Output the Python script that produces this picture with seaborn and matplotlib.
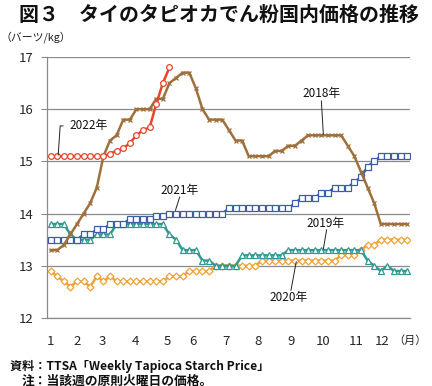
import matplotlib
matplotlib.use('Agg')
import matplotlib.pyplot as plt
import seaborn as sns
import numpy as np

# ---------------- data (weekly prices, baht/kg) ----------------
weeks = list(range(55))
month_pos = [0, 4.0, 7.9, 12.8, 17.7, 21.5, 26.6, 31.4, 36.4, 41.3, 46.2, 50.2]
month_labels = ['1', '2', '3', '4', '5', '6', '7', '8', '9', '10', '11', '12']

v2018 = [13.3, 13.3, 13.4, 13.6, 13.8, 14.0, 14.2, 14.5, 15.1, 15.4,
         15.5, 15.8, 15.8, 16.0, 16.0, 16.0, 16.2, 16.2, 16.5, 16.6,
         16.7, 16.7, 16.4, 16.0, 15.8, 15.8, 15.8, 15.6, 15.4, 15.4,
         15.1, 15.1, 15.1, 15.1, 15.2, 15.2, 15.3, 15.3, 15.4, 15.5,
         15.5, 15.5, 15.5, 15.5, 15.5, 15.3, 15.1, 14.8, 14.5, 14.2,
         13.8, 13.8, 13.8, 13.8, 13.8]
v2019 = [13.8, 13.8, 13.8, 13.6, 13.5, 13.5, 13.5, 13.6, 13.6, 13.6,
         13.8, 13.8, 13.8, 13.8, 13.8, 13.8, 13.8, 13.8, 13.6, 13.5,
         13.3, 13.3, 13.3, 13.1, 13.1, 13.0, 13.0, 13.0, 13.0, 13.2,
         13.2, 13.2, 13.2, 13.2, 13.2, 13.2, 13.3, 13.3, 13.3, 13.3,
         13.3, 13.3, 13.3, 13.3, 13.3, 13.3, 13.3, 13.3, 13.1, 13.0,
         12.9, 13.0, 12.9, 12.9, 12.9]
v2020 = [12.9, 12.8, 12.7, 12.6, 12.7, 12.7, 12.6, 12.8, 12.7, 12.8,
         12.7, 12.7, 12.7, 12.7, 12.7, 12.7, 12.7, 12.7, 12.8, 12.8,
         12.8, 12.9, 12.9, 12.9, 12.9, 13.0, 13.0, 13.0, 13.0, 13.0,
         13.0, 13.0, 13.1, 13.1, 13.1, 13.1, 13.1, 13.1, 13.1, 13.1,
         13.1, 13.1, 13.1, 13.1, 13.2, 13.2, 13.2, 13.3, 13.4, 13.4,
         13.5, 13.5, 13.5, 13.5, 13.5]
v2021 = [13.5, 13.5, 13.5, 13.5, 13.5, 13.6, 13.6, 13.7, 13.7, 13.8,
         13.8, 13.8, 13.9, 13.9, 13.9, 13.9, 13.95, 13.95, 14.0, 14.0,
         14.0, 14.0, 14.0, 14.0, 14.0, 14.0, 14.0, 14.1, 14.1, 14.1,
         14.1, 14.1, 14.1, 14.1, 14.1, 14.1, 14.1, 14.2, 14.3, 14.3,
         14.3, 14.4, 14.4, 14.5, 14.5, 14.5, 14.6, 14.7, 14.9, 15.0,
         15.1, 15.1, 15.1, 15.1, 15.1]
v2022 = [15.1, 15.1, 15.1, 15.1, 15.1, 15.1, 15.1, 15.1, 15.1, 15.15,
         15.2, 15.25, 15.35, 15.5, 15.6, 15.65, 16.1, 16.5, 16.8]

# ---------------- figure ----------------
sns.set_style('white')
plt.rcParams['font.family'] = ['Noto Sans CJK JP', 'DejaVu Sans']

W, H = 432, 386
fig = plt.figure(figsize=(W / 100, H / 100), dpi=100)
ax = fig.add_axes([47.3 / W, 68 / H, (410.5 - 47.3) / W, (318 - 57) / H])

series = [
    (v2020, '#F2A234', 'D', 3.5),
    (v2019, '#2E9A90', '^', 4.5),
    (v2021, '#3A5EA8', 's', 4.3),
    (v2018, '#A0703A', 'x', 2.6),
    (v2022, '#E8452B', 'o', 4.1),
]
for i, (vals, col, mk, ms) in enumerate(series):
    sns.lineplot(x=weeks[:len(vals)], y=vals, ax=ax, color=col, marker=mk,
                 markersize=ms, markerfacecolor='white', markeredgecolor=col,
                 markeredgewidth=0.9, linewidth=1.8, zorder=3 + i)

ax.set_xlim(-0.5, 54.5)
ax.set_ylim(12, 17)
ax.set_yticks([12, 13, 14, 15, 16, 17])
ax.set_yticklabels(['12', '13', '14', '15', '16', '17'], fontsize=9.5)
ax.yaxis.grid(True, color='#8a8a8a', linewidth=0.9)
ax.xaxis.grid(False)
ax.set_axisbelow(True)
ax.set_xlabel('')
ax.set_ylabel('')

ax.set_xticks(month_pos)
ax.set_xticklabels(month_labels, fontsize=9.5)
ax.set_xticks(np.arange(-0.5, 55, 1), minor=True)
ax.tick_params(axis='x', which='major', length=0, pad=12)
ax.tick_params(axis='x', which='minor', length=4, width=0.8, color='#8a8a8a', direction='out')
ax.tick_params(axis='y', length=4, width=0.8, color='#8a8a8a', pad=6, direction='out', left=True)

for s in ['top', 'right']:
    ax.spines[s].set_visible(False)
for s in ['left', 'bottom']:
    ax.spines[s].set_color('#8a8a8a')
    ax.spines[s].set_linewidth(0.9)

# ---------------- annotations ----------------
lab_kw = dict(fontsize=8.5, color='#111111', zorder=10)
lead_kw = dict(color='#222222', linewidth=0.7, zorder=10)

ax.text(2.85, 15.68, '2022年', ha='left', va='center', **lab_kw)
ax.plot([1.9, 1.45, 1.15], [15.68, 15.68, 15.12], **lead_kw)

ax.text(19.6, 14.45, '2021年', ha='center', va='center', **lab_kw)
ax.plot([19.55, 18.9], [14.32, 14.06], **lead_kw)

ax.text(41.0, 16.31, '2018年', ha='center', va='center', **lab_kw)
ax.plot([41.0, 41.3], [16.16, 15.52], **lead_kw)

ax.text(41.65, 13.81, '2019年', ha='center', va='center', **lab_kw)
ax.plot([41.8, 41.3], [13.69, 13.32], **lead_kw)

ax.text(36.1, 12.40, '2020年', ha='center', va='center', **lab_kw)
ax.plot([37.2, 36.4], [13.08, 12.53], **lead_kw)

# ---------------- texts ----------------
def fx(px):
    return px / W

def fy(py):
    return 1 - py / H

fig.text(fx(19), fy(14), '図３　タイのタピオカでん粉国内価格の推移', fontsize=14.4,
         fontweight='bold', ha='left', va='center', color='#111111')
fig.text(fx(0), fy(37), '（バーツ/kg）', fontsize=7.8, ha='left', va='center', color='#222222')
fig.text(fx(427), fy(341), '（月）', fontsize=8, ha='right', va='center', color='#222222')
fig.text(fx(10), fy(366), '資料：TTSA「Weekly Tapioca Starch Price」', fontsize=8.7,
         fontweight='bold', ha='left', va='center', color='#111111')
fig.text(fx(22), fy(381), '注：当該週の原則火曜日の価格。', fontsize=9.2,
         fontweight='bold', ha='left', va='center', color='#111111')

fig.savefig('out.png', dpi=100)
